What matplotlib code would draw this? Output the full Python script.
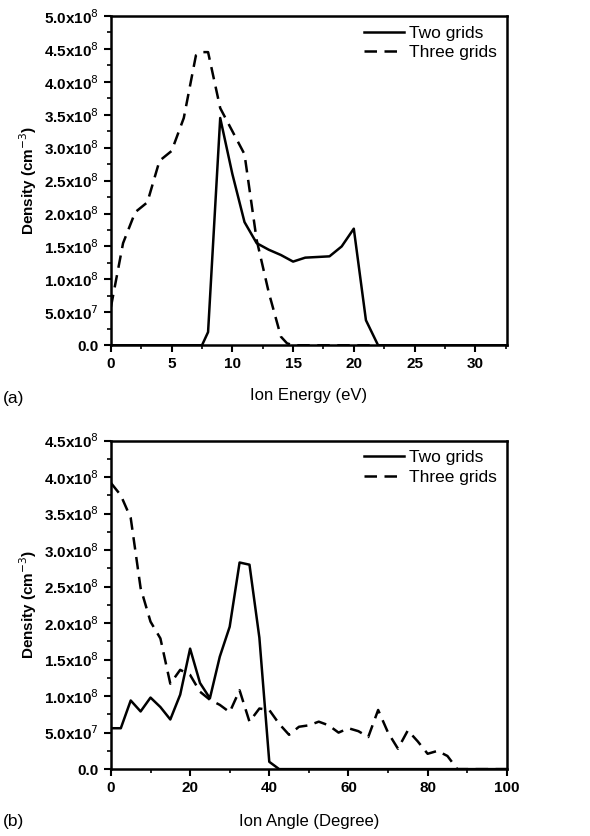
import numpy as np
import matplotlib
matplotlib.use("Agg")
from matplotlib import pyplot as plt
from matplotlib.ticker import MultipleLocator, FuncFormatter

plt.rcParams['font.family'] = ['Liberation Sans', 'DejaVu Sans']

# (a) ion energy distribution
energy = [0, 1, 2, 3, 4, 5, 6, 7, 7.5, 8, 9, 10, 11, 12, 13, 14, 14.5, 15,
          16, 17, 18, 19, 20, 21, 22, 23, 25, 30, 32.5]
two_energy = [0, 0, 0, 0, 0, 0, 0, 0, 0.0, 0.2, 3.45, 2.6, 1.87, 1.55, 1.45, 1.37, 1.32, 1.27,
              1.33, 1.34, 1.35, 1.5, 1.77, 0.38, 0.0, 0, 0, 0, 0]
three_energy = [0.58, 1.55, 2.02, 2.17, 2.8, 2.95, 3.45, 4.4, 4.45, 4.45, 3.6, 3.25, 2.9, 1.6, 0.8, 0.13, 0.03, 0.0,
                0, 0, 0, 0, 0, 0, 0, 0, 0, 0, 0]

# (b) ion angle distribution
angle = [0, 2.5, 5, 7.5, 10, 12.5, 15, 17.5, 20, 22.5, 25, 27.5, 30, 32.5, 35, 37.5, 40, 42.5,
         45, 47.5, 50, 52.5, 55, 57.5, 60, 62.5, 65, 67.5, 70, 72.5, 75, 77.5, 80, 82.5, 85, 87.5,
         90, 95, 100]
two_angle = [0.56, 0.56, 0.94, 0.79, 0.98, 0.85, 0.68, 1.02, 1.65, 1.18, 0.97, 1.54, 1.95, 2.83, 2.8, 1.8, 0.1, 0.0,
             0, 0, 0, 0, 0, 0, 0, 0, 0, 0, 0, 0, 0, 0, 0, 0, 0, 0,
             0, 0, 0]
three_angle = [3.92, 3.75, 3.44, 2.48, 2.02, 1.79, 1.17, 1.36, 1.29, 1.06, 0.95, 0.88, 0.78, 1.08, 0.65, 0.83, 0.81, 0.62,
               0.47, 0.58, 0.6, 0.65, 0.6, 0.5, 0.56, 0.52, 0.44, 0.81, 0.5, 0.28, 0.53, 0.38, 0.21, 0.25, 0.18, 0.0,
               0, 0, 0]


def sci(v, pos):
    if v == 0:
        return "0.0"
    e = int(np.floor(np.log10(abs(v)) + 1e-9))
    m = v / 10 ** e
    return "%.1fx10$^{%d}$" % (m, e)


def style(ax):
    for s in ax.spines.values():
        s.set_linewidth(1.8)
    ax.tick_params(which='major', direction='out', length=5, width=1.5, labelsize=11)
    ax.tick_params(which='minor', direction='out', length=3, width=1.2)
    ax.yaxis.set_major_formatter(FuncFormatter(sci))
    for lab in ax.get_xticklabels() + ax.get_yticklabels():
        lab.set_fontweight('bold')
    ax.legend(loc='upper right', frameon=False, fontsize=12.5, handlelength=2.3,
              borderaxespad=0.15, labelspacing=0.25, handletextpad=0.3)


fig = plt.figure(figsize=(5.9, 8.36), dpi=100)

ax1 = fig.add_axes([0.188, 0.587, 0.671, 0.394])
ax1.plot(energy, np.array(two_energy) * 1e8, 'k-', lw=1.8, label='Two grids')
ax1.plot(energy, np.array(three_energy) * 1e8, 'k--', lw=1.8, dashes=(5, 3), label='Three grids')
ax1.set_xlim(0, 32.6)
ax1.set_ylim(0, 5e8)
ax1.xaxis.set_major_locator(MultipleLocator(5))
ax1.xaxis.set_minor_locator(MultipleLocator(2.5))
ax1.yaxis.set_major_locator(MultipleLocator(0.5e8))
ax1.yaxis.set_minor_locator(MultipleLocator(0.25e8))
ax1.set_xlabel('Ion Energy (eV)', fontsize=12, labelpad=12)
ax1.set_ylabel('Density (cm$^{-3}$)', fontsize=11, fontweight='bold', labelpad=4)
style(ax1)
fig.text(0.005, 0.518, '(a)', fontsize=12.5)

ax2 = fig.add_axes([0.188, 0.080, 0.671, 0.393])
ax2.plot(angle, np.array(two_angle) * 1e8, 'k-', lw=1.8, label='Two grids')
ax2.plot(angle, np.array(three_angle) * 1e8, 'k--', lw=1.8, dashes=(5, 3), label='Three grids')
ax2.set_xlim(0, 100)
ax2.set_ylim(0, 4.5e8)
ax2.xaxis.set_major_locator(MultipleLocator(20))
ax2.xaxis.set_minor_locator(MultipleLocator(10))
ax2.yaxis.set_major_locator(MultipleLocator(0.5e8))
ax2.yaxis.set_minor_locator(MultipleLocator(0.25e8))
ax2.set_xlabel('Ion Angle (Degree)', fontsize=12, labelpad=14)
ax2.set_ylabel('Density (cm$^{-3}$)', fontsize=11, fontweight='bold', labelpad=4)
style(ax2)
fig.text(0.005, 0.012, '(b)', fontsize=12.5)

fig.savefig('out.png', dpi=100)
